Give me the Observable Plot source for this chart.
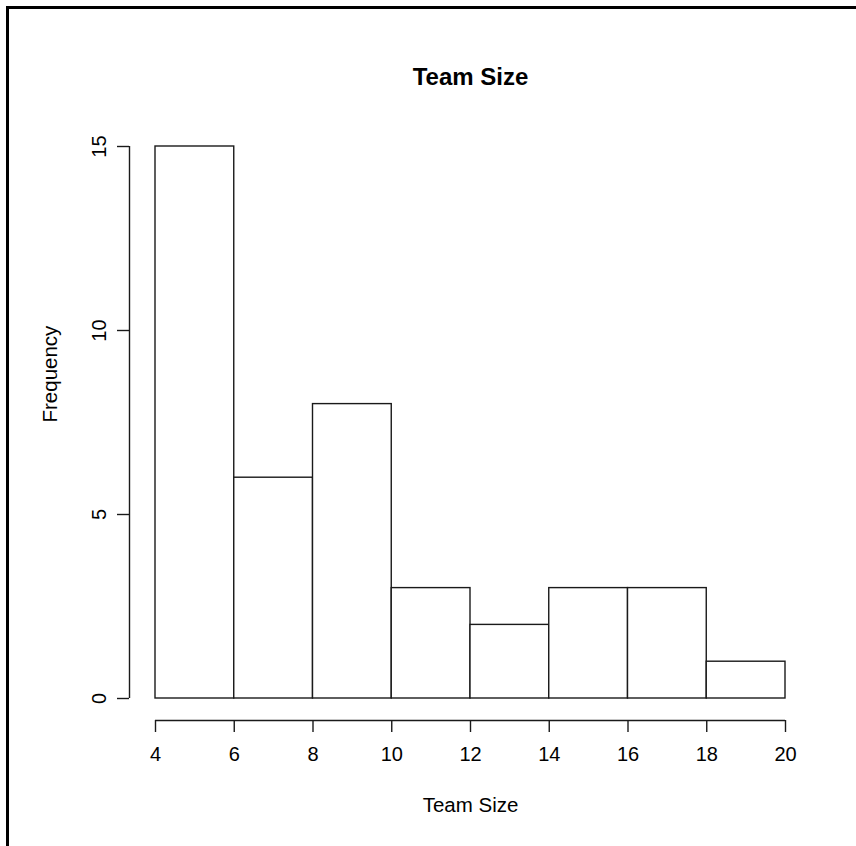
<!DOCTYPE html>
<html>
<head>
<meta charset="utf-8">
<script src="https://cdn.jsdelivr.net/npm/d3@7"></script>
<script src="https://cdn.jsdelivr.net/npm/@observablehq/plot@0.6"></script>
<style>
  html, body { margin: 0; padding: 0; background: #fff; }
  #wrap { position: relative; width: 856px; height: 846px; overflow: hidden; }
  #frame { position: absolute; left: 6px; top: 6px; right: -10px; bottom: -10px;
           border-left: 3px solid #000; border-top: 3px solid #000; pointer-events: none; }
  #chart { position: absolute; left: 0; top: 0; }
</style>
</head>
<body>
<div id="wrap"><div id="chart"></div><div id="frame"></div></div>
<script>
const binStart = [4, 6, 8, 10, 12, 14, 16, 18];
const binEnd   = [6, 8, 10, 12, 14, 16, 18, 20];
const frequency = [15, 6, 8, 3, 2, 3, 3, 1];
const xTicks = [4, 6, 8, 10, 12, 14, 16, 18, 20];
const yTicks = [0, 5, 10, 15];
const title = "Team Size";
const xLabel = "Team Size";
const yLabel = "Frequency";

const bins = binStart.map((s, i) => ({x1: s, x2: binEnd[i], y: frequency[i]}));
const lineColor = "#1a1a1a";
const font = "'Liberation Sans', Arial, Helvetica, sans-serif";

const chart = Plot.plot({
  width: 856,
  height: 846,
  marginLeft: 155,
  marginRight: 71,
  marginTop: 146,
  marginBottom: 148,
  style: {fontFamily: font, fontSize: "20px", color: "#000", background: "transparent"},
  x: {domain: [4, 20]},
  y: {domain: [0, 15]},
  marks: [
    Plot.rectY(bins, {x1: "x1", x2: "x2", y: "y", fill: "white", stroke: lineColor, strokeWidth: 1.4, inset: 0}),
    Plot.axisX({ticks: xTicks, dy: 22, tickSize: 12, tickPadding: 14, label: null, stroke: lineColor, strokeWidth: 1.4, fill: "#000", fontSize: 20}),
    Plot.ruleY([0], {x1: xTicks[0], x2: xTicks[xTicks.length - 1], dy: 22, stroke: lineColor, strokeWidth: 1.4}),
    Plot.axisY({ticks: yTicks, dx: -26, tickSize: 12, tickPadding: 12, tickRotate: -90, label: null, stroke: lineColor, strokeWidth: 1.4, fill: "#000", fontSize: 20}),
    Plot.ruleX([xTicks[0]], {y1: yTicks[0], y2: yTicks[yTicks.length - 1], dx: -26, stroke: lineColor, strokeWidth: 1.4}),
    Plot.text([title], {frameAnchor: "top", dy: -69, fontWeight: "bold", fontSize: 24, fill: "#000", lineAnchor: "middle"}),
    Plot.text([xLabel], {frameAnchor: "bottom", dy: 107, fontSize: 20.5, fill: "#000", lineAnchor: "middle"}),
    Plot.text([yLabel], {frameAnchor: "left", dx: -105, rotate: -90, fontSize: 20.5, fill: "#000", lineAnchor: "middle"})
  ]
});
document.getElementById("chart").appendChild(chart);
</script>
</body>
</html>
